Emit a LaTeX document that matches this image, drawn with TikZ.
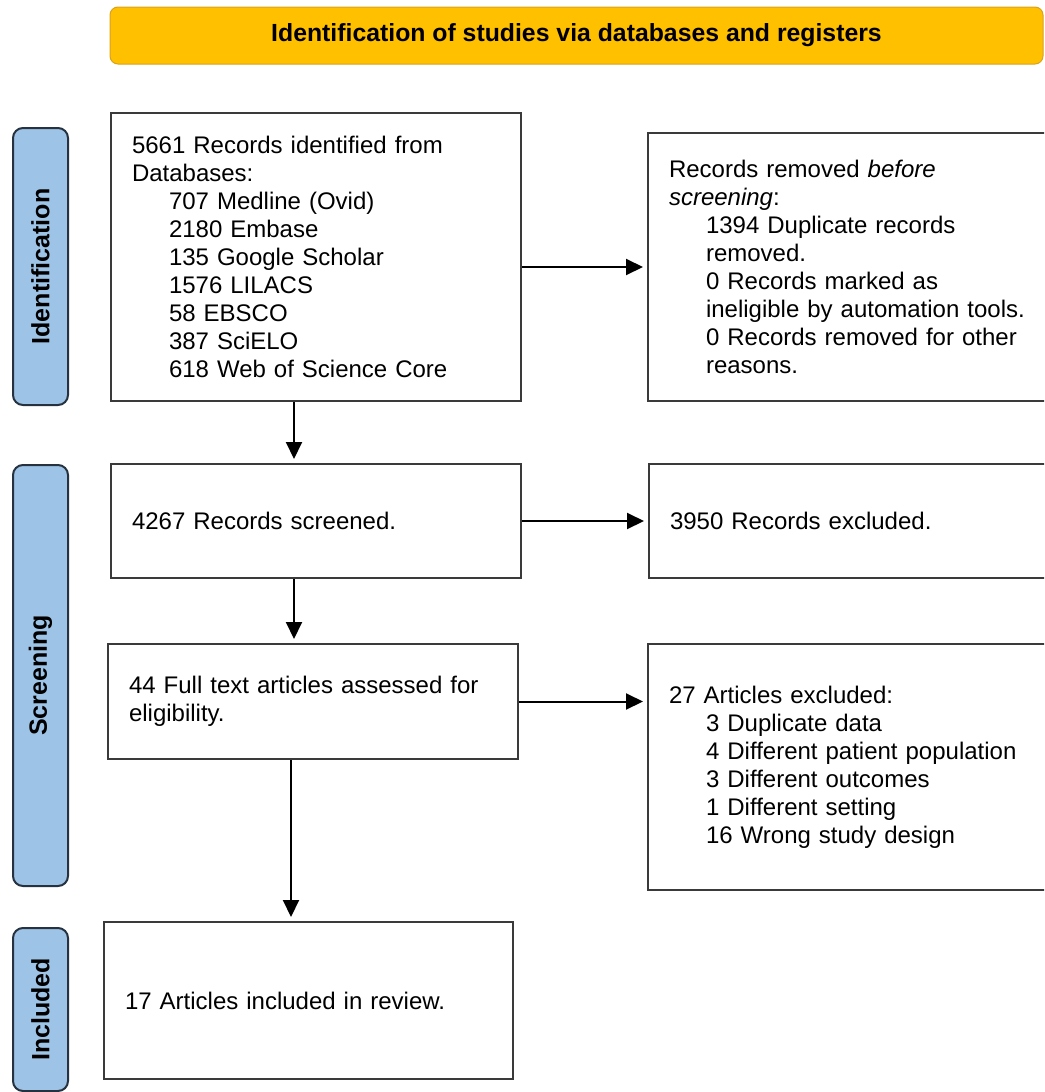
\documentclass[tikz,border=0pt]{standalone}
\usepackage{fontspec}
\setmainfont{Liberation Sans}
\usetikzlibrary{arrows.meta}

\definecolor{bannerfill}{HTML}{FFC000}
\definecolor{bannerline}{HTML}{D9A21B}
\definecolor{barfill}{HTML}{9DC3E6}
\definecolor{barline}{HTML}{26323F}
\definecolor{boxline}{HTML}{3A3A3A}

\newcommand{\ind}{\hspace*{37pt}}

\tikzset{
    box/.style={rectangle,draw=boxline,line width=2pt,anchor=north west,align=left,inner xsep=21pt,inner ysep=0pt,font=\fontsize{24}{28}\selectfont},
    bar/.style={rectangle,rounded corners=10pt,draw=barline,line width=2pt,fill=barfill,minimum width=55pt,inner sep=0pt,font=\fontsize{25}{28}\selectfont\bfseries},
    banner/.style={rectangle,rounded corners=8pt,draw=bannerline,line width=1pt,fill=bannerfill,minimum width=933pt,minimum height=57pt,font=\fontsize{24.8}{28}\selectfont\bfseries},
    flow/.style={-{Triangle[length=17pt,width=16pt]},line width=2pt,shorten >=4pt}
}

\begin{document}
\begin{tikzpicture}[x=1pt,y=-1pt]
                \useasboundingbox (0, 0) rectangle (1044, 1092);
                \clip (0, 0) rectangle (1044, 1092);

                \node[banner] (head) at (576.5, 35.5) {Identification of studies via databases and registers};

                \node[bar,minimum height=277pt] (phaseid) at (40.5, 266.5) {\rotatebox{90}{Identification}};
                \node[bar,minimum height=421pt] (phasescr) at (40.5, 675.5) {\rotatebox{90}{Screening}};
                \node[bar,minimum height=163pt] (phaseinc) at (40.5, 1009.5) {\rotatebox{90}{Included}};

                \node[box,text width=368pt,minimum height=288pt] (idrec) at (110, 112)
                    {5661 Records identified from\\
                     Databases:\\
                     \ind 707 Medline (Ovid)\\
                     \ind 2180 Embase\\
                     \ind 135 Google Scholar\\
                     \ind 1576 LILACS\\
                     \ind 58 EBSCO\\
                     \ind 387 SciELO\\
                     \ind 618 Web of Science Core};
                \node[box,text width=360pt,minimum height=268pt] (removed) at (647, 132)
                    {Records removed \textit{before}\\
                     \textit{screening}:\\
                     \ind 1394 Duplicate records\\
                     \ind removed.\\
                     \ind 0 Records marked as\\
                     \ind ineligible by automation tools.\\
                     \ind 0 Records removed for other\\
                     \ind reasons.};

                \node[box,text width=368pt,minimum height=114pt] (screened) at (110, 463) {4267 Records screened.};
                \node[box,text width=360pt,minimum height=114pt] (excluded) at (648, 463) {3950 Records excluded.};

                \node[box,text width=368pt,minimum height=115pt] (fulltext) at (107, 643)
                    {44 Full text articles assessed for\\
                     eligibility.};
                \node[box,text width=360pt,minimum height=246pt] (artexcl) at (647, 643)
                    {27 Articles excluded:\\
                     \ind 3 Duplicate data\\
                     \ind 4 Different patient population\\
                     \ind 3 Different outcomes\\
                     \ind 1 Different setting\\
                     \ind 16 Wrong study design};

                \node[box,text width=367pt,minimum height=157pt] (included) at (103, 921) {17 Articles included in review.};

                \coordinate (down1) at ([xshift=-22pt]idrec.south);
                \coordinate (down2) at ([xshift=-22pt]screened.south);
                \coordinate (down3) at ([xshift=-22pt]fulltext.south);

                \draw[flow] (idrec.east |- removed.west) -- (removed.west);
                \draw[flow] (screened.east) -- (excluded.west);
                \draw[flow] (fulltext.east) -- (fulltext.east -| artexcl.west);
                \draw[flow] (down1) -- (down1 |- screened.north);
                \draw[flow] (down2) -- (down2 |- fulltext.north);
                \draw[flow] (down3) -- (down3 |- included.north);
\end{tikzpicture}
\end{document}
